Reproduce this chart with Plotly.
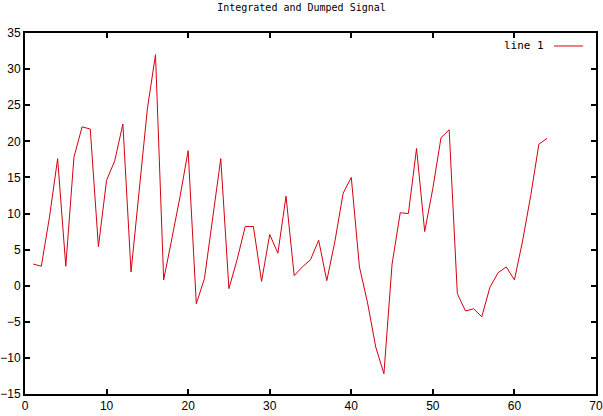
import plotly.graph_objects as go

x_values = list(range(1, 65))
signal = [3.0, 2.7, 9.5, 17.6, 2.7, 17.8, 22.0, 21.7, 5.4, 14.6,
          17.3, 22.4, 1.9, 13.2, 24.5, 32.0, 0.8, 6.5, 12.3, 18.7,
          -2.5, 1.0, 9.0, 17.6, -0.4, 3.6, 8.2, 8.2, 0.6, 7.1,
          4.5, 12.4, 1.4, 2.6, 3.6, 6.3, 0.7, 6.2, 12.8, 15.0,
          2.6, -2.4, -8.5, -12.2, 3.0, 10.1, 10.0, 19.0, 7.5, 13.5,
          20.5, 21.6, -1.1, -3.5, -3.2, -4.3, -0.2, 1.8, 2.6, 0.8,
          6.2, 12.5, 19.6, 20.4]
title_text = "Integrated and Dumped Signal"
series_name = "line 1"

line_color = "#d40010"

fig = go.Figure()
fig.add_trace(go.Scatter(x=x_values, y=signal, mode="lines", name=series_name,
                         line=dict(color=line_color, width=1), showlegend=False))

axis_common = dict(showgrid=False, zeroline=False, showline=True, mirror="ticks",
                   linecolor="black", linewidth=2, ticks="inside", ticklen=5,
                   tickwidth=2, tickcolor="black", automargin=False,
                   tickfont=dict(family="Liberation Sans, Arial, sans-serif", size=12, color="black"))

fig.update_layout(
    width=603, height=416,
    margin=dict(l=25, r=7, t=33, b=22, autoexpand=False),
    paper_bgcolor="white", plot_bgcolor="white",
    title=dict(text=title_text, x=0.5, xanchor="center", y=0.99, yanchor="top",
               font=dict(family="DejaVu Sans Mono, monospace", size=10, color="black")),
    xaxis=dict(range=[0, 70], dtick=10, **axis_common),
    yaxis=dict(range=[-15, 35], dtick=5, **axis_common),
    showlegend=False,
)

fig.add_annotation(text=series_name, xref="paper", yref="paper", x=0.9125, y=0.964,
                   xanchor="right", yanchor="middle", showarrow=False,
                   font=dict(family="DejaVu Sans Mono, monospace", size=11, color="black"))
fig.add_shape(type="line", xref="paper", yref="paper", x0=0.9265, x1=0.9772, y0=0.964, y1=0.964,
              line=dict(color=line_color, width=1))

fig.write_html("out.html", config={"displayModeBar": False},
               post_script="document.body.style.margin='0';document.body.style.overflow='hidden';")
